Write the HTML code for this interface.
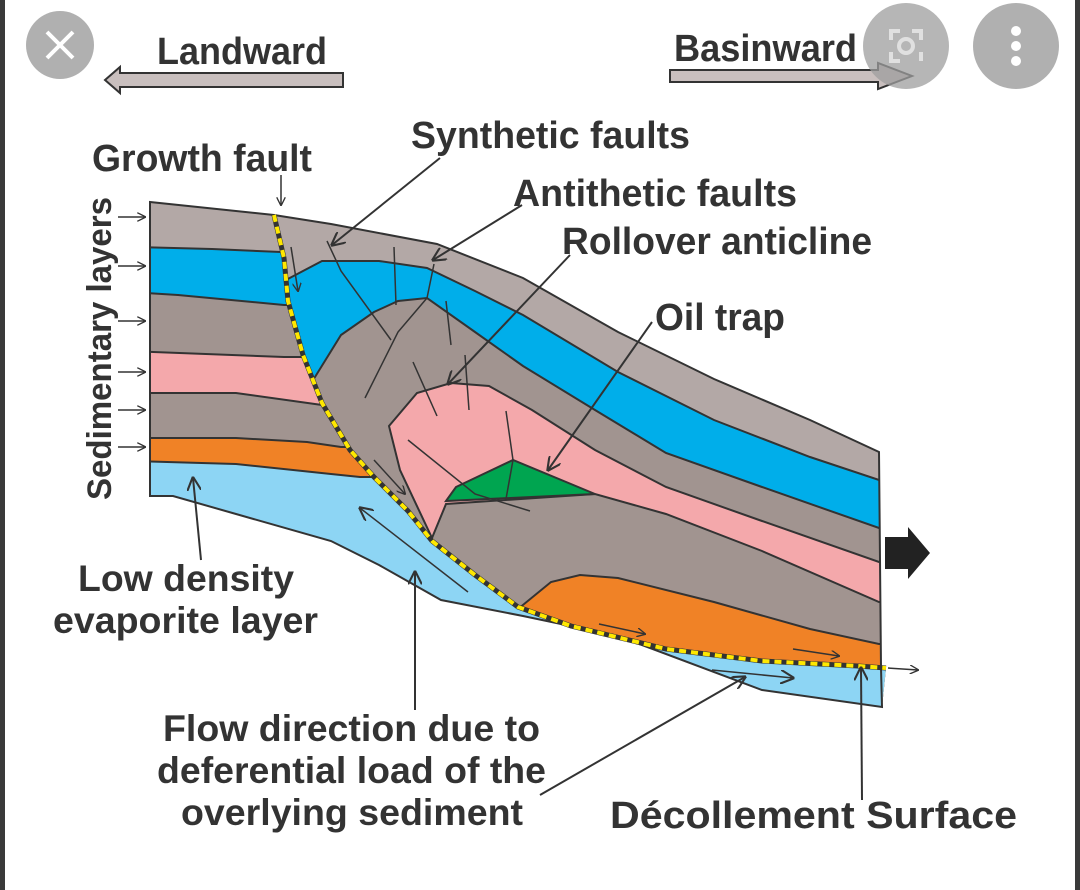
<!DOCTYPE html>
<html><head><meta charset="utf-8"><style>
html,body{margin:0;padding:0;background:#fff;width:1080px;height:890px;overflow:hidden}
svg{display:block}
text{font-family:"Liberation Sans",Arial,sans-serif;font-weight:bold;fill:#333}
</style></head><body>
<svg width="1080" height="890" viewBox="0 0 1080 890" xmlns="http://www.w3.org/2000/svg">
<defs>
<marker id="ah" viewBox="0 0 10 10" refX="9" refY="5" markerWidth="9" markerHeight="9" orient="auto" markerUnits="userSpaceOnUse"><path d="M0,0 L10,5 L0,10" fill="none" stroke="#333" stroke-width="1.5"/></marker>
<marker id="ahb" viewBox="0 0 10 10" refX="9" refY="5" markerWidth="14" markerHeight="14" orient="auto" markerUnits="userSpaceOnUse"><path d="M0,0 L10,5 L0,10" fill="none" stroke="#333" stroke-width="1.5"/></marker>
<clipPath id="fw"><path d="M150,202 L274,215 L284,258 L288,301 L303,355 L322,403 L350,450 L374,477 L408,511 L432,541 L475,575 L518,607 L571,626 L666,649 L762,661 L858,666 L886,668 L882,707 L762,690 L618,636 L523,616 L441,600 L379,565 L331,541 L236,514 L173,496 L150,496 Z"/></clipPath>
<clipPath id="hw"><path d="M274,215 L331,224 L437,244 L523,278 L618,332 L714,379 L810,420 L879,452 L881,668 L858,666 L762,661 L666,649 L571,626 L518,607 L475,575 L432,541 L408,511 L374,477 L350,450 L322,403 L303,355 L288,301 L284,258 Z"/></clipPath>
</defs>
<rect x="0" y="0" width="5" height="890" fill="#3a3a3a"/>
<rect x="1075" y="0" width="5" height="890" fill="#3a3a3a"/>

<g clip-path="url(#fw)" stroke="#333" stroke-width="2">
<rect x="100" y="150" width="850" height="600" fill="#b3a8a6" stroke="none"/>
<path d="M100,246 L212,249 L281,252 L950,252 L950,800 L100,800Z" fill="#00aeea"/>
<path d="M100,290 L178,295 L284,305 L950,305 L950,800 L100,800Z" fill="#a19490"/>
<path d="M100,350 L284,357 L950,357 L950,800 L100,800Z" fill="#f4a8ab"/>
<path d="M100,393 L236,393 L322,405 L950,405 L950,800 L100,800Z" fill="#a19490"/>
<path d="M100,438 L236,438 L307,442 L341,447 L950,447 L950,800 L100,800Z" fill="#f08226"/>
<path d="M100,460 L236,464 L331,474 L360,477 L950,477 L950,800 L100,800Z" fill="#8dd5f4"/>
</g>
<g clip-path="url(#hw)" stroke="#333" stroke-width="2">
<rect x="200" y="150" width="750" height="600" fill="#b3a8a6" stroke="none"/>
<path d="M250,281 L284,281 L322,261 L379,261 L427,268 L475,291 L523,315 L618,372 L714,420 L810,457 L879,480 L950,480 L950,800 L250,800Z" fill="#00aeea"/>
<path d="M300,400 L315,377 L341,335 L374,312 L398,301 L427,298 L475,332 L523,366 L595,410 L666,453 L762,487 L879,528 L950,528 L950,800 L300,800Z" fill="#a19490"/>
<path d="M400,700 L432,538 L400,470 L389,426 L417,393 L451,383 L489,386 L532,410 L595,450 L666,487 L762,521 L879,562 L950,562 L950,800 L400,800Z" fill="#f4a8ab"/>
<path d="M420,700 L432,538 L446,504 L595,494 L666,514 L762,551 L879,602 L950,602 L950,800 L420,800Z" fill="#a19490"/>
<path d="M500,700 L518,609 L551,582 L580,575 L618,578 L714,602 L810,629 L879,644 L950,644 L950,800 L500,800Z" fill="#f08226"/>
<path d="M446,501 L456,487 L513,460 L595,494 Z" fill="#00a550"/>
</g>
<path d="M150,496 L150,202 L274,215 L331,224 L437,244 L523,278 L618,332 L714,379 L810,420 L879,452 L881,668 L882,707 L762,690 L618,636 L523,616 L441,600 L379,565 L331,541 L236,514 L173,496 Z" fill="none" stroke="#333" stroke-width="2"/>
<g fill="none" stroke="#333" stroke-width="1.5">
<path d="M291,247 L298,291" marker-end="url(#ah)"/>
<path d="M327,241 L341,271 L391,340"/>
<path d="M394,247 L396,305"/>
<path d="M434,264 L427,298 L398,332 L365,398"/>
<path d="M413,362 L437,416"/>
<path d="M446,301 L451,345"/>
<path d="M465,355 L469,410"/>
<path d="M506,411 L513,460 L506,499"/>
<path d="M408,440 L475,494 L530,511"/>
<path d="M374,460 L405,494" marker-end="url(#ah)"/>
<path d="M468,592 L360,508" marker-end="url(#ahb)"/>
<path d="M599,624 L645,634" marker-end="url(#ah)"/>
<path d="M793,649 L839,656" marker-end="url(#ah)"/>
<path d="M712,670 L793,678" marker-end="url(#ahb)"/>
<path d="M888,668 L918,670" marker-end="url(#ah)"/>
</g>
<path d="M274,215 L284,258 L288,301 L303,355 L322,403 L350,450 L374,477 L408,511 L432,541 L475,575 L518,607 L571,626 L666,649 L762,661 L858,666 L886,668" fill="none" stroke="#333" stroke-width="5"/>
<path d="M274,215 L284,258 L288,301 L303,355 L322,403 L350,450 L374,477 L408,511 L432,541 L475,575 L518,607 L571,626 L666,649 L762,661 L858,666 L886,668" fill="none" stroke="#ffe800" stroke-width="4" stroke-dasharray="7,5"/>

<circle cx="60" cy="45" r="34" fill="#b0b0b0"/>
<path d="M47,32 L73,58 M73,32 L47,58" stroke="#fff" stroke-width="4"/>
<path d="M343,73 L120,73 L120,67 L105,80 L120,93 L120,87 L343,87Z" fill="#c9bfbe" stroke="#333" stroke-width="2"/>
<text x="157" y="64" font-size="38" textLength="170" lengthAdjust="spacingAndGlyphs">Landward</text>
<path d="M670,70 L878,70 L878,63 L912,76 L878,89 L878,82 L670,82Z" fill="#c9bfbe" stroke="#333" stroke-width="2"/>
<text x="674" y="61" font-size="38" textLength="183" lengthAdjust="spacingAndGlyphs">Basinward</text>
<circle cx="906" cy="46" r="43" fill="#9e9e9e" fill-opacity="0.75"/>
<path d="M891,40 L891,31 L900,31 M912,31 L921,31 L921,40 M891,52 L891,61 L900,61 M921,52 L921,61" fill="none" stroke="#e0e0e0" stroke-width="4"/>
<circle cx="906" cy="46" r="7" fill="none" stroke="#e0e0e0" stroke-width="4"/>
<circle cx="1016" cy="46" r="43" fill="#b0b0b0"/>
<circle cx="1016" cy="31" r="5" fill="#fff"/><circle cx="1016" cy="46" r="5" fill="#fff"/><circle cx="1016" cy="61" r="5" fill="#fff"/>

<text x="92" y="171" font-size="38" textLength="220" lengthAdjust="spacingAndGlyphs">Growth fault</text>
<path d="M281,175 L281,205" stroke="#333" stroke-width="1.5" marker-end="url(#ah)"/>
<text x="411" y="148" font-size="38" textLength="279" lengthAdjust="spacingAndGlyphs">Synthetic faults</text>
<path d="M440,158 L332,245" stroke="#333" stroke-width="2" marker-end="url(#ahb)"/>
<text x="513" y="206" font-size="38" textLength="284" lengthAdjust="spacingAndGlyphs">Antithetic faults</text>
<path d="M522,205 L433,260" stroke="#333" stroke-width="2" marker-end="url(#ahb)"/>
<text x="562" y="254" font-size="38" textLength="310" lengthAdjust="spacingAndGlyphs">Rollover anticline</text>
<path d="M570,255 L448,384" stroke="#333" stroke-width="2" marker-end="url(#ahb)"/>
<text x="655" y="330" font-size="38" textLength="130" lengthAdjust="spacingAndGlyphs">Oil trap</text>
<path d="M652,322 L548,470" stroke="#333" stroke-width="2" marker-end="url(#ahb)"/>
<text transform="translate(111,500) rotate(-90)" font-size="34" textLength="303" lengthAdjust="spacingAndGlyphs">Sedimentary layers</text>
<g stroke="#333" stroke-width="1.5">
<path d="M118,217 L145,217" marker-end="url(#ah)"/>
<path d="M118,266 L145,266" marker-end="url(#ah)"/>
<path d="M118,321 L145,321" marker-end="url(#ah)"/>
<path d="M118,372 L145,372" marker-end="url(#ah)"/>
<path d="M118,410 L145,410" marker-end="url(#ah)"/>
<path d="M118,447 L145,447" marker-end="url(#ah)"/>
</g>
<text x="78" y="591" font-size="37" textLength="216" lengthAdjust="spacingAndGlyphs">Low density</text>
<text x="53" y="633" font-size="37" textLength="265" lengthAdjust="spacingAndGlyphs">evaporite layer</text>
<path d="M201,560 L193,478" stroke="#333" stroke-width="2" marker-end="url(#ahb)"/>
<text x="163" y="741" font-size="37" textLength="377" lengthAdjust="spacingAndGlyphs">Flow direction due to</text>
<text x="157" y="783" font-size="37" textLength="389" lengthAdjust="spacingAndGlyphs">deferential load of the</text>
<text x="181" y="825" font-size="37" textLength="342" lengthAdjust="spacingAndGlyphs">overlying sediment</text>
<path d="M415,710 L415,572" stroke="#333" stroke-width="2" marker-end="url(#ahb)"/>
<path d="M540,795 L745,677" stroke="#333" stroke-width="2" marker-end="url(#ahb)"/>
<text x="610" y="828" font-size="38" textLength="407" lengthAdjust="spacingAndGlyphs">Décollement Surface</text>
<path d="M862,800 L861,668" stroke="#333" stroke-width="2" marker-end="url(#ahb)"/>
<path d="M885,537 L908,537 L908,527 L930,553 L908,579 L908,569 L885,569Z" fill="#222"/>
</svg>
</body></html>
